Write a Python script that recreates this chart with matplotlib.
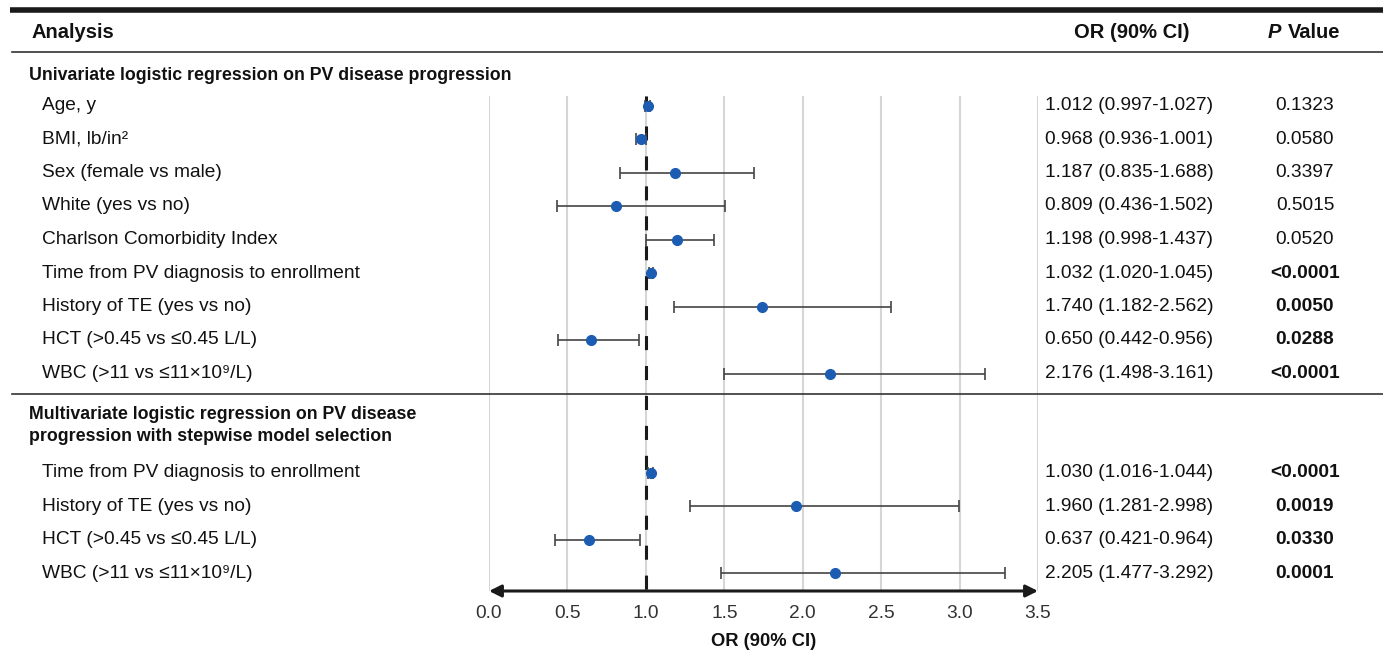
import matplotlib.pyplot as plt
import matplotlib.transforms as mtransforms

# univariate rows
uni_labels = ["Age, y", "BMI, lb/in\u00b2", "Sex (female vs male)", "White (yes vs no)",
              "Charlson Comorbidity Index", "Time from PV diagnosis to enrollment",
              "History of TE (yes vs no)", "HCT (>0.45 vs \u22640.45 L/L)",
              "WBC (>11 vs \u226411\u00d710\u2079/L)"]
uni_or = [1.012, 0.968, 1.187, 0.809, 1.198, 1.032, 1.740, 0.650, 2.176]
uni_lo = [0.997, 0.936, 0.835, 0.436, 0.998, 1.020, 1.182, 0.442, 1.498]
uni_hi = [1.027, 1.001, 1.688, 1.502, 1.437, 1.045, 2.562, 0.956, 3.161]
uni_p = ["0.1323", "0.0580", "0.3397", "0.5015", "0.0520", "<0.0001", "0.0050", "0.0288", "<0.0001"]

# multivariate rows
multi_labels = ["Time from PV diagnosis to enrollment", "History of TE (yes vs no)",
                "HCT (>0.45 vs \u22640.45 L/L)", "WBC (>11 vs \u226411\u00d710\u2079/L)"]
multi_or = [1.030, 1.960, 0.637, 2.205]
multi_lo = [1.016, 1.281, 0.421, 1.477]
multi_hi = [1.044, 2.998, 0.964, 3.292]
multi_p = ["<0.0001", "0.0019", "0.0330", "0.0001"]

xticks = [0.0, 0.5, 1.0, 1.5, 2.0, 2.5, 3.0, 3.5]

plt.rcParams['font.family'] = ['Liberation Sans', 'DejaVu Sans']

W, H = 1383, 653
fig = plt.figure(figsize=(W / 100, H / 100), dpi=100)
ax = fig.add_axes([489 / W, 0, (1038 - 489) / W, 1])
ax.set_xlim(0, 3.5)
ax.set_ylim(H, 0)
ax.axis('off')

# x in figure pixels, y in layout pixels
tr = mtransforms.blended_transform_factory(
    mtransforms.Affine2D().scale(1 / W, 1) + mtransforms.BboxTransformTo(fig.bbox), ax.transData)

txt = '#111111'
fs = 13.8
blue = '#1c5cb2'

uni_y = [105.5 + 33.5 * i for i in range(len(uni_labels))]
multi_y = [472.5 + 33.6 * i for i in range(len(multi_labels))]
grid_top, axis_y = 96, 591

# table rules
ax.plot([10, W], [10, 10], color='#1a1a1a', lw=4, transform=tr, clip_on=False, solid_capstyle='butt')
ax.plot([12, W], [52, 52], color='#333333', lw=1.2, transform=tr, clip_on=False)
ax.plot([12, W], [394, 394], color='#333333', lw=1.2, transform=tr, clip_on=False)

# header
ax.text(31, 33, "Analysis", transform=tr, fontsize=14.5, fontweight='bold', va='center', color=txt)
ax.text(1132, 33, "OR (90% CI)", transform=tr, fontsize=14.5, fontweight='bold', va='center', ha='center', color=txt)
ax.text(1281, 33, "P", transform=tr, fontsize=14.5, fontweight='bold', fontstyle='italic', va='center', ha='right', color=txt)
ax.text(1288, 33, "Value", transform=tr, fontsize=14.5, fontweight='bold', va='center', ha='left', color=txt)

# section headers
ax.text(29, 75, "Univariate logistic regression on PV disease progression", transform=tr,
        fontsize=12.8, fontweight='bold', va='center', color=txt)
ax.text(29, 425.5, "Multivariate logistic regression on PV disease\nprogression with stepwise model selection",
        transform=tr, fontsize=12.8, fontweight='bold', va='center', color=txt, linespacing=1.45)

# grid and reference line
ax.vlines(xticks, grid_top, axis_y, color='#d6d6d6', lw=1.5, zorder=1)
ax.plot([1, 1], [grid_top, axis_y], color='#1a1a1a', lw=2.2, dashes=(4.6, 5.2), zorder=2)


def draw_rows(labels, ors, los, his, ps, ys):
    for lab, o, lo, hi, p, y in zip(labels, ors, los, his, ps, ys):
        ax.text(42, y, lab, transform=tr, fontsize=fs, va='center', color=txt)
        ax.text(1045, y, f"{o:.3f} ({lo:.3f}-{hi:.3f})", transform=tr, fontsize=fs, va='center', color=txt)
        sig = p.startswith('<') or float(p) < 0.05
        ax.text(1305, y, p, transform=tr, fontsize=fs, va='center', ha='center', color=txt,
                fontweight='bold' if sig else 'normal')
    ax.errorbar(ors, ys, xerr=[[o - l for o, l in zip(ors, los)], [h - o for o, h in zip(ors, his)]],
                fmt='o', color=blue, ms=7, ecolor='#444444', elinewidth=1.2, capsize=4.5, capthick=1.2, zorder=3)


draw_rows(uni_labels, uni_or, uni_lo, uni_hi, uni_p, uni_y)
draw_rows(multi_labels, multi_or, multi_lo, multi_hi, multi_p, multi_y)

# x axis arrow
ax.annotate('', xy=(0, axis_y), xytext=(3.5, axis_y),
            arrowprops=dict(arrowstyle='<|-|>', color='#1a1a1a', lw=2.2, mutation_scale=18,
                            shrinkA=0, shrinkB=0))
for t in xticks:
    ax.text(t, 614, f"{t:.1f}", fontsize=fs, ha='center', va='center', color='#333333')
ax.text(1.75, 641, "OR (90% CI)", fontsize=13.2, fontweight='bold', ha='center', va='center', color=txt)

fig.savefig('out.png', dpi=100)
